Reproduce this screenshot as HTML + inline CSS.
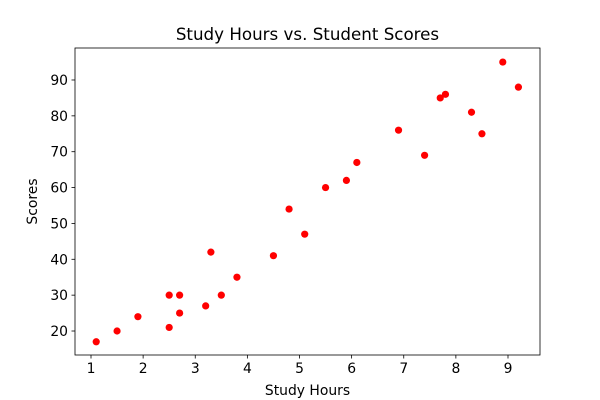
<!DOCTYPE html>
<html><head><meta charset="utf-8"><style>
html,body{margin:0;padding:0;background:#fff;}
svg{display:block;font-family:"DejaVu Sans","Liberation Sans",sans-serif;}
</style></head><body>
<svg id="chart" width="600" height="400"></svg>
<script>
const hours=[2.5,5.1,3.2,8.5,3.5,1.5,9.2,5.5,8.3,2.7,7.7,5.9,4.5,3.3,1.1,8.9,2.5,1.9,6.1,7.4,2.7,4.8,3.8,6.9,7.8];
const scores=[21,47,27,75,30,20,88,60,81,25,85,62,41,42,17,95,30,24,67,69,30,54,35,76,86];
const xTicks=[1,2,3,4,5,6,7,8,9];
const yTicks=[20,30,40,50,60,70,80,90];
const NS="http://www.w3.org/2000/svg";
const svg=document.getElementById('chart');
const L=75,R=540,T=48,B=355;
const xMin=0.693,xMax=9.614,yMin=13.31,yMax=98.92;
const sx=v=>L+(v-xMin)/(xMax-xMin)*(R-L);
const sy=v=>B-(v-yMin)/(yMax-yMin)*(B-T);
function mk(tag,attrs,parent){const e=document.createElementNS(NS,tag);for(const k in attrs)e.setAttribute(k,attrs[k]);(parent||svg).appendChild(e);return e;}
const frame=mk('rect',{x:L,y:T,width:R-L,height:B-T,fill:'none',stroke:'#000','stroke-width':0.8});


xTicks.forEach(t=>{const x=sx(t);
 const l=mk('line',{x1:x,x2:x,y1:B,y2:B+3.5,stroke:'#000','stroke-width':0.8});
 
 
 const tx=mk('text',{x:x,y:B+18,'text-anchor':'middle','font-size':13.9});tx.textContent=t;
 
 });
yTicks.forEach(t=>{const y=sy(t);
 const l=mk('line',{x1:L-3.5,x2:L,y1:y,y2:y,stroke:'#000','stroke-width':0.8});
 
 
 const tx=mk('text',{x:L-7,y:y+5,'text-anchor':'end','font-size':13.9});tx.textContent=t;
 
 });
hours.forEach((h,i)=>{const c=mk('circle',{cx:sx(h),cy:sy(scores[i]),r:3.6,fill:'#ff0000'});
 
 });
const title=mk('text',{x:(L+R)/2,y:40,'text-anchor':'middle','font-size':16.7});title.textContent='Study Hours vs. Student Scores';


const xl=mk('text',{x:(L+R)/2,y:395,'text-anchor':'middle','font-size':13.9});xl.textContent='Study Hours';


const yl=mk('text',{x:0,y:0,'text-anchor':'middle','font-size':13.9,transform:`translate(37,${(T+B)/2}) rotate(-90)`});yl.textContent='Scores';


</script>
</body></html>
